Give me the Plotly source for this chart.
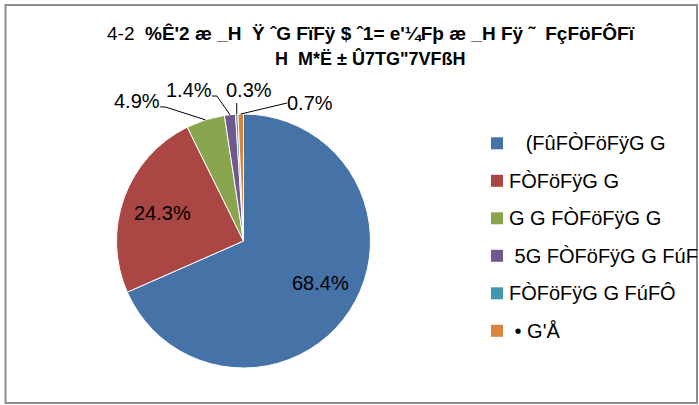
import math
import plotly.graph_objects as go

# ---------------- data ----------------
categories = [
    "   (FûFÒFöFÿG G",
    "FÒFöFÿG G",
    "G G FÒFöFÿG G",
    " 5G FÒFöFÿG G FúF",
    "FÒFöFÿG G FúFÔ",
    " • G'Å",
]
values = [68.4, 24.3, 4.9, 1.4, 0.3, 0.7]
colors = ["#4572A7", "#AA4643", "#89A54E", "#71588F", "#4198AF", "#DB843D"]
title_line1_plain = "4-2  "
title_line1_bold = "%Ê'2 æ _H  Ÿ ˆG FïFÿ $ ˆ1= e'¼Fþ æ _H Fÿ ˜  FçFöFÔFï"
title_line2 = "H  M*Ë ± Û7TG\"7VFßH"

# ---------------- layout constants (pixels) ----------------
W, H = 699, 405
CX, CY, R = 243.5, 241.0, 127.0
FONT = "Liberation Sans, Arial, sans-serif"

# inside-label placement: fraction of radius along mid-angle, plus fine offset
inside_style = {
    0: (0.67, (6.0, -4.0)),
    1: (0.67, (-1.0, 1.0)),
}
# outside-label placement for the small slices, relative to slice edge point:
# (label dx, label dy, leader path points relative to edge point)
outside_style = {
    2: ((-68.0, -18.5), [(-40.3, -12.9), (-45.3, -12.9)]),
    3: ((-40.5, -24.7), [(-13.0, -18.7), (-18.0, -18.7)]),
    4: ((12.4, -24.2), [(0.0, -11.2)]),
    5: ((69.4, -11.0), [(46.4, -11.0)]),
}


def nb(s):
    return s.replace(" ", "\u00a0")


def px(x):
    return x / W


def py(y):
    return 1 - y / H


fig = go.Figure()

fig.add_trace(go.Pie(
    labels=[nb(c) for c in categories],
    values=values,
    sort=False,
    direction="clockwise",
    rotation=0,
    marker=dict(colors=colors, line=dict(color="white", width=1)),
    textinfo="none",
    domain=dict(x=[px(CX - R), px(CX + R)], y=[py(CY + R), py(CY - R)]),
    showlegend=False,
    hoverinfo="label+percent",
))

annotations = []
shapes = []

# slice labels, positioned from slice angles
total = sum(values)
cum = 0.0
for i, v in enumerate(values):
    mid = (cum + v / 2) / total * 2 * math.pi  # clockwise from 12 o'clock
    cum += v
    s, c = math.sin(mid), math.cos(mid)
    label = "%.1f%%" % (v / total * 100)
    if i in inside_style:
        f, (odx, ody) = inside_style[i]
        lx = CX + f * R * s + odx
        ly = CY - f * R * c + ody
        annotations.append(dict(
            x=px(lx), y=py(ly), xref="paper", yref="paper",
            text=label, showarrow=False, xanchor="center", yanchor="middle",
            font=dict(family=FONT, size=20, color="black"),
        ))
        continue
    ex = CX + R * s
    ey = CY - R * c
    (ldx, ldy), pts = outside_style[i]
    annotations.append(dict(
        x=px(ex + ldx), y=py(ey + ldy), xref="paper", yref="paper",
        text=label, showarrow=False, xanchor="center", yanchor="middle",
        font=dict(family=FONT, size=20, color="black"),
    ))
    path = "M %f,%f" % (px(ex), py(ey))
    for dx, dy in pts:
        path += " L %f,%f" % (px(ex + dx), py(ey + dy))
    shapes.append(dict(type="path", xref="paper", yref="paper", path=path,
                       line=dict(color="black", width=1)))

# manual legend (swatch + label per category)
LEG_X, LEG_Y0, LEG_DY, SW = 491.0, 143.3, 37.5, 12.0
for i, (c, col) in enumerate(zip(categories, colors)):
    yc = LEG_Y0 + i * LEG_DY
    shapes.append(dict(type="rect", xref="paper", yref="paper",
                       x0=px(LEG_X), x1=px(LEG_X + SW),
                       y0=py(yc + SW / 2), y1=py(yc - SW / 2),
                       fillcolor=col, line=dict(width=0)))
    annotations.append(dict(
        x=px(LEG_X + SW + 4), y=py(yc), xref="paper", yref="paper",
        text=nb(c), showarrow=False, xanchor="left", yanchor="middle",
        font=dict(family=FONT, size=20, color="black"),
    ))

# title (two lines)
annotations.append(dict(
    x=px(371), y=py(33), xref="paper", yref="paper",
    text=nb(title_line1_plain) + "<b>" + nb(title_line1_bold) + "</b>",
    showarrow=False, xanchor="center", yanchor="middle",
    font=dict(family=FONT, size=19, color="black"),
))
annotations.append(dict(
    x=px(370), y=py(58), xref="paper", yref="paper",
    text="<b>" + nb(title_line2) + "</b>",
    showarrow=False, xanchor="center", yanchor="middle",
    font=dict(family=FONT, size=18, color="black"),
))

# chart-area border
shapes.append(dict(type="rect", xref="paper", yref="paper",
                   x0=px(5.5), x1=px(697), y0=py(403), y1=py(5),
                   line=dict(color="#8C8C8C", width=2), fillcolor="rgba(0,0,0,0)"))

fig.update_layout(
    width=W, height=H,
    margin=dict(l=0, r=0, t=0, b=0),
    paper_bgcolor="white",
    plot_bgcolor="white",
    font=dict(family=FONT, color="black"),
    annotations=annotations,
    shapes=shapes,
)

fig.write_html(
    "out.html",
    config={"displayModeBar": False},
    post_script="document.body.style.margin='0';document.body.style.overflow='hidden';",
)
